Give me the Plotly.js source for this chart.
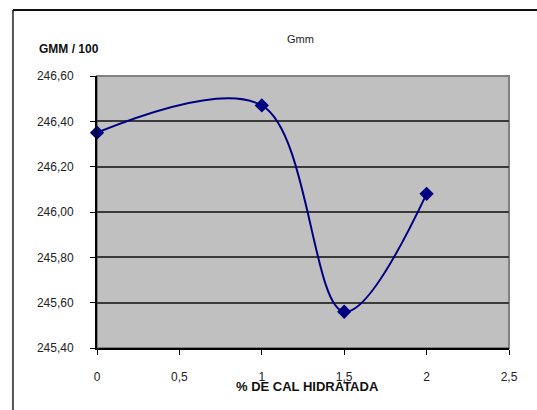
<!DOCTYPE html>
<html>
<head>
<meta charset="utf-8">
<script src="https://cdn.plot.ly/plotly-3.0.1.min.js"></script>
<style>html,body{margin:0;padding:0;background:#fff;}</style>
</head>
<body>
<div id="chart" style="width:537px;height:410px;"></div>
<script>
var xValues = [0, 1, 1.5, 2];
var gmmValues = [246.35, 246.47, 245.56, 246.08];
var xTicks = [0, 0.5, 1, 1.5, 2, 2.5];
var yTicks = [245.4, 245.6, 245.8, 246.0, 246.2, 246.4, 246.6];

var trace = {
  x: xValues,
  y: gmmValues,
  type: 'scatter',
  mode: 'lines+markers',
  line: {color: '#000080', width: 2, shape: 'spline', smoothing: 1},
  marker: {symbol: 'diamond', size: 11, color: '#000080'},
  cliponaxis: false,
  hoverinfo: 'none'
};

var font = {family: 'Liberation Sans, Arial, sans-serif', size: 12, color: '#222'};

var layout = {
  width: 537,
  height: 410,
  margin: {l: 97, r: 28, t: 76, b: 62},
  paper_bgcolor: '#ffffff',
  plot_bgcolor: '#c0c0c0',
  separators: ',.',
  showlegend: false,
  font: font,
  xaxis: {
    range: [0, 2.5],
    tickvals: xTicks,
    showgrid: false,
    zeroline: false,
    showline: true,
    linecolor: '#000',
    linewidth: 2,
    ticks: 'outside',
    ticklen: 5,
    tickwidth: 1,
    tickcolor: '#000',
    ticklabelstandoff: 12,
    tickfont: font
  },
  yaxis: {
    range: [245.4, 246.6],
    tickvals: yTicks,
    tickformat: '.2f',
    showgrid: true,
    gridcolor: '#3a3a3a',
    gridwidth: 2,
    zeroline: false,
    showline: true,
    linecolor: '#000',
    linewidth: 2,
    ticks: 'outside',
    ticklen: 5,
    tickwidth: 1,
    tickcolor: '#000',
    ticklabelstandoff: 14,
    tickfont: font
  },
  shapes: [
    {type: 'rect', xref: 'paper', yref: 'paper', x0: 0, x1: 1, y0: 0, y1: 1,
     line: {color: '#808080', width: 2}, layer: 'below'},
    {type: 'line', xref: 'paper', yref: 'paper', x0: -0.204, x1: -0.204, y0: -0.3, y1: 1.2426,
     line: {color: '#555', width: 2}},
    {type: 'line', xref: 'paper', yref: 'paper', x0: -0.204, x1: 1.2, y0: 1.2426, y1: 1.2426,
     line: {color: '#111', width: 2}}
  ],
  annotations: [
    {text: 'Gmm', xref: 'paper', yref: 'paper', x: 0.493, y: 1.136, showarrow: false,
     xanchor: 'center', yanchor: 'middle', font: {family: 'Liberation Sans, Arial, sans-serif', size: 11, color: '#222'}},
    {text: '<b>GMM / 100</b>', xref: 'paper', yref: 'paper', x: -0.145, y: 1.099, showarrow: false,
     xanchor: 'left', yanchor: 'middle', font: {family: 'Liberation Sans, Arial, sans-serif', size: 12, color: '#111'}},
    {text: '<b>% DE CAL HIDRATADA</b>', xref: 'paper', yref: 'paper', x: 0.51, y: -0.14, showarrow: false,
     xanchor: 'center', yanchor: 'middle', font: {family: 'Liberation Sans, Arial, sans-serif', size: 13, color: '#111'}}
  ]
};

Plotly.newPlot('chart', [trace], layout, {displayModeBar: false, staticPlot: true});
</script>
</body>
</html>
